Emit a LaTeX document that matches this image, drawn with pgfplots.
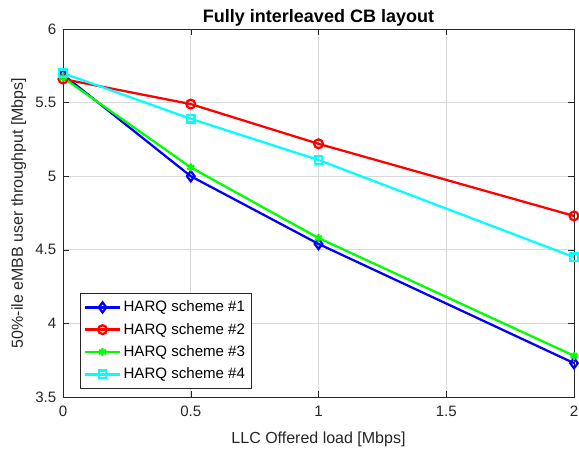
\documentclass[border=0pt]{standalone}
\usepackage{pgfplots}
\pgfplotsset{compat=1.18}
\usepackage{fontspec}
\setmainfont{Liberation Sans}
\definecolor{mblue}{rgb}{0,0,1}
\definecolor{mred}{rgb}{1,0,0}
\definecolor{mgreen}{rgb}{0,1,0}
\definecolor{mcyan}{rgb}{0,1,1}
\begin{document}
\begin{tikzpicture}
\begin{axis}[
  name=ax,
  scale only axis,
  width=383.25pt, height=276pt,
  xmin=0, xmax=2, ymin=3.5, ymax=6,
  xtick={0,0.5,1,1.5,2},
  ytick={3.5,4,4.5,5,5.5,6},
  /pgf/number format/assume math mode=true,
  tick label style={font=\fontsize{11.3}{13}\selectfont, color=black!85},
  xticklabel style={yshift=-3pt},
  yticklabel style={xshift=-1.5pt},
  xlabel style={font=\fontsize{12}{14}\selectfont, color=black!85, at={(axis description cs:0.5,-0.116)}, anchor=center},
  ylabel style={font=\fontsize{12}{14}\selectfont, color=black!85, at={(axis description cs:-0.0865,0.5)}, anchor=center},
  title style={font=\fontsize{13.5}{15}\selectfont\bfseries, at={(axis description cs:0.5,1.008)}, anchor=center},
  title={Fully interleaved CB layout},
  xlabel={LLC Offered load [Mbps]},
  ylabel={50\%-ile eMBB user throughput [Mbps]},
  grid=major,
  grid style={black!15, line width=0.5pt},
  axis line style={black!85, line width=0.6pt},
  tick style={black!85},
  tick align=inside,
  every axis plot/.append style={line width=1.7pt},
  legend style={at={(axis description cs:0.033,0.022)}, anchor=south west, font=\fontsize{11.3}{13}\selectfont, draw=black!85, row sep=3pt, inner xsep=3pt, inner ysep=4pt},
  legend cell align=left,
  legend image code/.code={\draw[#1, line width=2pt] (0cm,0cm) -- (0.9cm,0cm); \draw[#1, line width=1.7pt] plot coordinates {(0.45cm,0cm)};},
]
\addplot[mblue, mark=diamond, mark size=3.8pt, mark options={solid}] coordinates {(0,5.69) (0.5,5.00) (1,4.54) (2,3.73)};
\addlegendentry{HARQ scheme \#1}
\addplot[mred, mark=o, mark size=3.3pt] coordinates {(0,5.66) (0.5,5.49) (1,5.22) (2,4.73)};
\addlegendentry{HARQ scheme \#2}
\addplot[mgreen, mark=asterisk, mark size=3pt] coordinates {(0,5.67) (0.5,5.06) (1,4.58) (2,3.78)};
\addlegendentry{HARQ scheme \#3}
\addplot[mcyan, mark=square, mark size=2.8pt] coordinates {(0,5.70) (0.5,5.39) (1,5.11) (2,4.45)};
\addlegendentry{HARQ scheme \#4}
\end{axis}
\pgfresetboundingbox
\path[use as bounding box] ([shift={(-47.25pt,-43.5pt)}]ax.south west) rectangle ([shift={(3.75pt,21.75pt)}]ax.north east);
\end{tikzpicture}
\end{document}
